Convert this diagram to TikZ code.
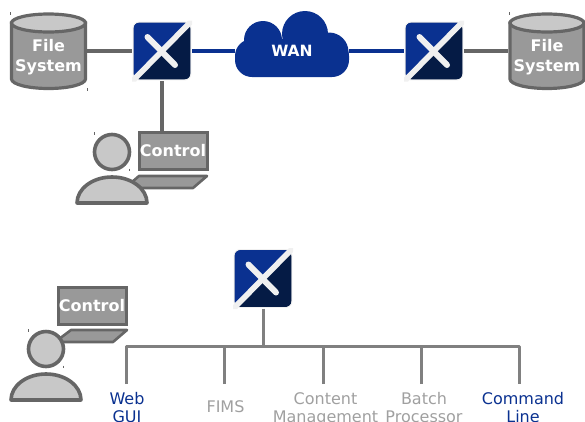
\documentclass[tikz,border=0pt]{standalone}
\usepackage{fontspec}
\setmainfont{DejaVu Sans}
\definecolor{navyA}{HTML}{0A3190}
\definecolor{navyB}{HTML}{051B45}
\definecolor{bandc}{HTML}{F0F0F0}
\definecolor{edgeg}{HTML}{666666}
\definecolor{fillg}{HTML}{999999}
\definecolor{headg}{HTML}{C8C8C8}
\definecolor{lineg}{HTML}{808080}
\definecolor{softg}{HTML}{A0A0A0}
\tikzset{
  silhouette/.style={draw=edgeg,line width=3.6pt,fill=headg,line join=round},
  cylbody/.style={draw=edgeg,line width=3.2pt,fill=fillg},
  screenbox/.style={draw=edgeg,line width=3pt,fill=fillg,minimum width=68pt,minimum height=37pt,inner sep=0pt,text=white,font=\fontsize{16}{19}\selectfont\bfseries},
  laptopbase/.style={draw=edgeg,line width=2.6pt,fill=fillg,line join=round},
  whitelabel/.style={text=white,align=center,inner sep=0pt,font=\fontsize{16}{19.5}\selectfont\bfseries},
  slabel/.style={align=center,inner sep=0pt,font=\fontsize{16}{18.5}\selectfont},
  grayconn/.style={draw=edgeg,line width=3.4pt},
  blueconn/.style={draw=navyA,line width=3.3pt},
  treeconn/.style={draw=lineg,line width=3pt},
  tickmark/.style={draw=edgeg,line width=.7pt},
  anchorbox/.style={minimum width=60pt,minimum height=60pt,inner sep=0pt},
  cylbox/.style={minimum width=77pt,minimum height=77pt,inner sep=0pt},
}
\newcommand{\swicon}[3]{%
  \begin{scope}[shift={(#2,#3)}]
    \fill[navyB,rounded corners=6pt] (-28.5,-28.5) rectangle (28.5,28.5);
    \begin{scope}
      \clip (-29,29) -- (-29,-29) -- (29,-29) -- cycle;
      \fill[navyA,rounded corners=6pt] (-28.5,-28.5) rectangle (28.5,28.5);
    \end{scope}
    \draw[bandc,line width=.8pt,rounded corners=6pt] (-29,-29) rectangle (29,29);
    \fill[bandc] (-30,26.5) -- (26,-30.5) -- (30,-30.5) -- (30,-26.5) -- (-26,30.5) -- (-30,30.5) -- cycle;
    \draw[bandc,line width=6pt,line cap=round] (-14.5,-14) -- (13,14);
    \node[anchorbox] (#1) at (0,0) {};
  \end{scope}}
\newcommand{\cylicon}[3]{%
  \begin{scope}[shift={(#2,#3)}]
    \draw[cylbody] (-37,-28) -- (-37,28) arc[start angle=180,end angle=0,x radius=37,y radius=9.5] -- (37,-28) -- cycle;
    \draw[draw=edgeg,line width=3.2pt,fill=headg] (0,-28) ellipse[x radius=37,y radius=9];
    \node[cylbox] (#1) at (0,0) {};
    \node[whitelabel] (#1t) at (0,6) {File\\System};
  \end{scope}}
\newcommand{\personicon}[2]{%
  \begin{scope}[shift={(#1,#2)}]
    \draw[silhouette] (0,0) circle[radius=17.5];
    \draw[silhouette] (-35,51) arc[start angle=180,end angle=360,x radius=35,y radius=26] -- cycle;
    \draw[tickmark] (-17.5,-20) -- (-17.5,-17.5) (17.5,16.5) -- (17.5,19);
  \end{scope}}
\begin{document}
\begin{tikzpicture}[x=1pt,y=-1pt]
\useasboundingbox (0,0) rectangle (585,421);
\clip (0,0) rectangle (585,421);
% upper row
\fill[navyA,rounded corners=17pt] (235,39) rectangle (349,77);
\fill[navyA] (263,40) circle[radius=19];
\fill[navyA] (305,34) circle[radius=23];
\fill[navyA] (329,52) circle[radius=19.5];
\fill[navyA] (270,40) rectangle (330,70);
\node[minimum width=114pt,minimum height=38pt,inner sep=0pt,text=white,font=\fontsize{15.5}{18}\selectfont\bfseries] (wan) at (292,50.5) {WAN};
\swicon{swa}{162}{51}
\swicon{swb}{434}{51}
\cylicon{fsa}{48.5}{51}
\cylicon{fsb}{547}{51}
\draw[tickmark] (10.5,12) -- (10.5,14.5) (87,88) -- (87,90.5) (509.5,12) -- (509.5,14.5);
\draw[blueconn] (swa.east) -- (swa.east -| wan.west);
\draw[blueconn] (swb.west -| wan.east) -- (swb.west);
\draw[grayconn] (fsa.east) -- (swa.west);
\draw[grayconn] (swb.east) -- (fsb.west);
% upper operator
\draw[laptopbase] (139,176) -- (207,176) -- (193,188) -- (125,188) -- cycle;
\node[screenbox] (ctla) at (173,151) {Control};
\draw[grayconn] (swa.south) -- (swa.south |- ctla.north);
\personicon{112}{152}
% lower operator
\draw[laptopbase] (71,330) -- (127,330) -- (113,342) -- (55,342) -- cycle;
\node[screenbox] (ctlb) at (92,305.5) {Control};
\personicon{46}{349}
% tree
\swicon{swc}{263}{278.5}
\coordinate (hub) at (263,346.5);
\coordinate (b1) at (126.5,346.5);
\coordinate (b5) at (519.5,346.5);
\node[slabel,text=navyA,anchor=north] (web) at (127,392) {Web\\GUI};
\node[slabel,text=softg,anchor=north] (fims) at (225.5,400.5) {FIMS};
\node[slabel,text=softg,anchor=north] (cm) at (325.5,392) {Content\\Management};
\node[slabel,text=softg,anchor=north] (bp) at (424,392) {Batch\\Processor};
\node[slabel,text=navyA,anchor=north] (cl) at (523,392) {Command\\Line};
\coordinate (d1) at (126.5,384);
\coordinate (d2) at (224.5,384);
\coordinate (d3) at (323,384);
\coordinate (d4) at (421,384);
\coordinate (d5) at (519.5,384);
\draw[treeconn] (swc.south) -- (hub);
\draw[treeconn,line join=round] (d1) -- (b1) -- (b5) -- (d5);
\draw[treeconn] (d2) -- (d2 |- hub);
\draw[treeconn] (d3) -- (d3 |- hub);
\draw[treeconn] (d4) -- (d4 |- hub);
\end{tikzpicture}
\end{document}
